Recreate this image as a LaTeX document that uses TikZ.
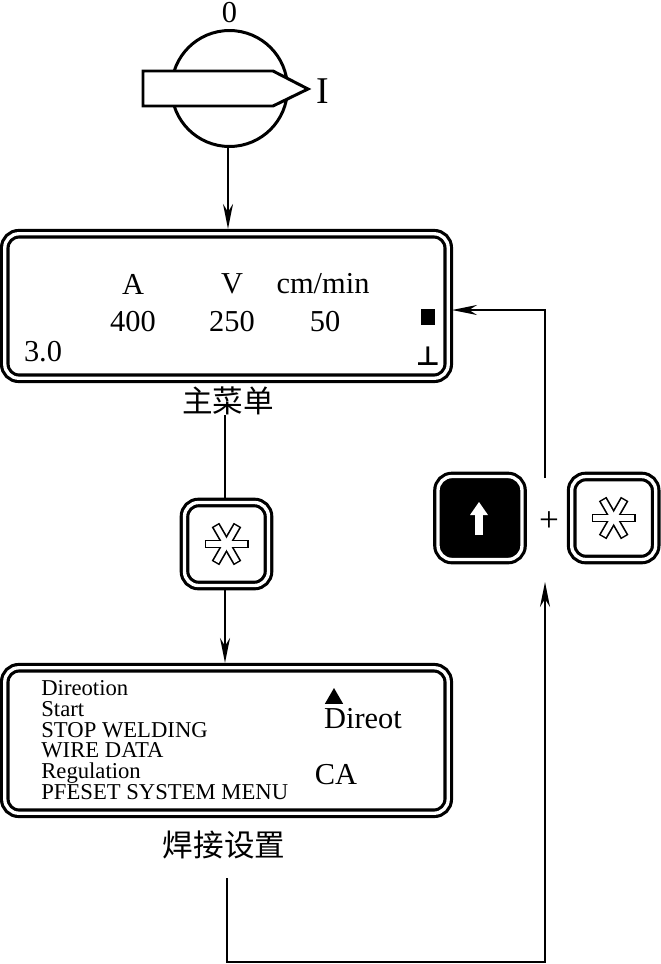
\documentclass[tikz,border=0pt]{standalone}
\usepackage{fontspec}
\setmainfont{Liberation Serif}
\newfontfamily\cjk{Noto Sans CJK SC}
\newfontfamily\symfont{DejaVu Sans}
\usetikzlibrary{shapes.geometric, arrows.meta, positioning}

\begin{document}
\begin{tikzpicture}[
  x=0.02cm, y=-0.02cm,
  dbox/.style={rectangle, draw=black, double=white, line width=1.8pt,
               double distance=1.9pt, outer sep=0.097cm, inner sep=0pt},
  panel/.style={dbox, rounded corners=0.28cm, minimum width=8.87cm},
  keybox/.style={dbox, rounded corners=0.28cm, minimum width=1.68cm, minimum height=1.66cm},
  txt/.style={inner sep=0pt, font=\fontsize{17.3}{20}\selectfont},
  cntxt/.style={inner sep=0pt, font=\fontsize{17.4}{20}\selectfont\cjk},
  arr/.style={-{Stealth[length=0.5cm,width=0.2cm,inset=0.16cm]}, line width=1pt},
  conn/.style={line width=1pt},
  keystar/.pic={
    \foreach \a in {0,60,120}
      \draw[line width=5pt] (\a:22) -- (\a+180:22);
    \foreach \a in {0,60,120}
      \draw[white, line width=3.1pt] (\a:20.5) -- (\a+180:20.5);
  }
]
  \useasboundingbox (0,0) rectangle (660,964);

  % switch
  \node[circle, draw, line width=1.7pt, minimum size=2.32cm, outer sep=0pt] (knob) at (229.5,88.5) {};
  \draw[fill=white, line width=1.7pt] (143,71) -- (273,71) -- (308,89) -- (273,106) -- (143,106) -- cycle;
  \node[txt, above=0.14cm of knob] (off) {0};
  \node[inner sep=0pt, font=\fontsize{21.5}{24}\selectfont] (on) at (323,91) {I};

  % main menu
  \node[panel, minimum height=2.89cm] (mainbox) at (226.5,306) {};
  \node[txt] (amps) at (133,284) {A};
  \node[txt] (volts) at (232,284) {V};
  \node[txt] (speed) at (323,284) {cm/min};
  \node[txt] (ampval) at (133,322) {400};
  \node[txt] (voltval) at (232,322) {250};
  \node[txt] (speedval) at (325,322) {50};
  \node[txt] (wire) at (43,352) {3.0};
  \node[fill=black, minimum width=0.28cm, minimum height=0.32cm, inner sep=0pt] (mark) at (428,317) {};
  \node[inner sep=0pt, font=\fontsize{15}{18}\selectfont\symfont\bfseries] (earth) at (428,356) {⊥};
  \node[cntxt, below=0.06cm of mainbox, xshift=0.03cm] (mainlabel) {主菜单};

  % keys
  \node[keybox] (menukey) at (226.5,544) {};
  \pic at (menukey.center) {keystar};
  \node[keybox, fill=black] (upkey) at (480,518) {};
  \node[keybox, right=0.8cm of upkey] (setkey) {};
  \pic at (setkey.center) {keystar};
  \draw[white, line width=4pt] (upkey.center) ++(-1,17) -- ++(0,-20);
  \fill[white] (upkey.center) ++(-1,-16) -- ++(9,13) -- ++(-18,0) -- cycle;
  \node[inner sep=0pt, font=\fontsize{20}{22}\selectfont] (plus) at (549,522) {+};

  % setup menu
  \node[panel, minimum height=2.91cm] (weldbox) at (226.5,740.5) {};
  \node[inner sep=0pt, anchor=north west, align=left,
        font=\fontsize{12.9}{11.85}\selectfont] (items) at (41,680)
    {Direotion\\Start\\STOP WELDING\\WIRE DATA\\Regulation\\PFESET SYSTEM MENU};
  \node[regular polygon, regular polygon sides=3, fill=black, minimum size=0.42cm, inner sep=0pt] (dirmark) at (334,698.5) {};
  \node[txt] (dirtxt) at (363,719) {Direot};
  \node[txt] (catxt) at (336,775) {CA};
  \node[cntxt, below=0.25cm of weldbox, xshift=-0.05cm] (weldlabel) {焊接设置};

  \coordinate (knobout) at (228,148);
  \coordinate (menuin) at ([xshift=-0.03cm]menukey.north);
  \coordinate (menuout) at ([xshift=-0.03cm]menukey.south);
  \coordinate (weldout) at (227,878);
  \coordinate (plusin) at (545,582);
  \coordinate (plusout) at (545,478);
  \coordinate (turn) at (545,962);
  \coordinate (backin) at (452,310);

  \draw[arr] (knobout) -- (knobout |- mainbox.north);
  \draw[conn] (mainlabel.south -| menuin) -- (menuin);
  \draw[arr] (menuout) -- (menuout |- weldbox.north);
  \draw[arr] (weldout) |- (turn) -- (plusin);
  \draw[arr] (plusout) |- (backin);
\end{tikzpicture}
\end{document}
